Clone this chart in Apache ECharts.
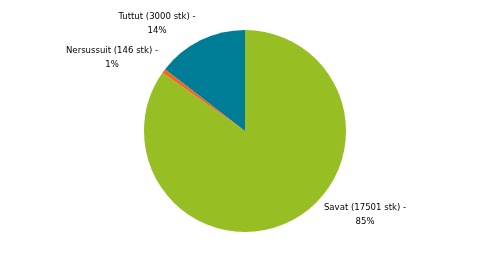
<!DOCTYPE html>
<html><head><meta charset="utf-8">
<script src="https://cdn.jsdelivr.net/npm/echarts@6/dist/echarts.min.js"></script>
<style>html,body{margin:0;padding:0;background:#fff}#c{width:491px;height:264px}</style>
</head><body><div id="c"></div>
<script>
const categories = ['Savat', 'Nersussuit', 'Tuttut'];
const values = [17501, 146, 3000];
const colors = ['#97BE22', '#F26722', '#007D96'];
const labelPos = [[365, 215], [112, 58], [157, 24]];

// percentages by largest remainder so they sum to 100
const total = values.reduce((a, b) => a + b, 0);
const raw = values.map(v => v / total * 100);
const pct = raw.map(Math.floor);
let left = 100 - pct.reduce((a, b) => a + b, 0);
raw.map((r, i) => [r - Math.floor(r), i]).sort((a, b) => b[0] - a[0]).slice(0, left).forEach(([, i]) => pct[i]++);

const chart = echarts.init(document.getElementById('c'));
chart.setOption({
  animation: false,
  series: [{
    type: 'pie',
    center: [245, 131],
    radius: [0, 101],
    startAngle: 90,
    clockwise: true,
    data: categories.map((n, i) => ({ name: n, value: values[i], itemStyle: { color: colors[i] } })),
    label: {
      show: true,
      position: 'outside',
      fontFamily: '"DejaVu Sans Condensed", "DejaVu Sans", sans-serif',
      fontSize: 9.5,
      lineHeight: 14,
      color: '#000',
      align: 'center',
      formatter: p => p.name + ' (' + p.value + ' stk) -\n' + pct[p.dataIndex] + '%'
    },
    labelLine: { show: false },
    labelLayout: p => ({ x: labelPos[p.dataIndex][0], y: labelPos[p.dataIndex][1], align: 'center', verticalAlign: 'middle' }),
    emphasis: { disabled: true }
  }]
});
</script></body></html>
